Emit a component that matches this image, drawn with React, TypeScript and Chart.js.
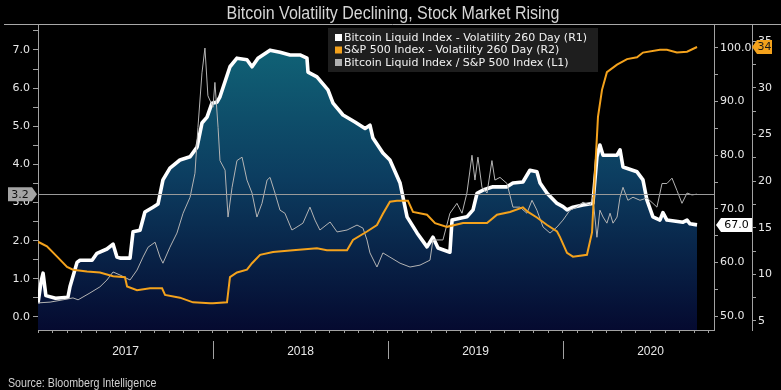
import React, { useEffect, useRef } from "react";
import { Chart, registerables } from "chart.js";

Chart.register(...registerables);

const ARIAL = '"Liberation Sans", Arial, sans-serif';
const SANS = '"DejaVu Sans", "Noto Sans", sans-serif';

const chartTitle = "Bitcoin Volatility Declining, Stock Market Rising";
const sourceNote = "Source: Bloomberg Intelligence";
const seriesLabels = [
  "Bitcoin Liquid Index - Volatility 260 Day (R1)",
  "S&P 500 Index - Volatility 260 Day (R2)",
  "Bitcoin Liquid Index / S&P 500 Index (L1)",
];
const seriesColors = ["#ffffff", "#f4a21c", "#b4b4b4"];
const years = [2017, 2018, 2019, 2020];
const xMin = 2017;
const xMax = 2020.863;

const leftTicks = [0, 0.5, 1, 1.5, 2, 2.5, 3, 3.5, 4, 4.5, 5, 5.5, 6, 6.5, 7, 7.5];
const leftRange = [-0.341, 7.655];
const r1Ticks = [50, 55, 60, 65, 70, 75, 80, 85, 90, 95, 100];
const r1Range = [47.39, 104.29];
const r2Ticks = [5, 7.5, 10, 12.5, 15, 17.5, 20, 22.5, 25, 27.5, 30, 32.5, 35];
const r2Range = [4.03, 36.76];

// Bitcoin Liquid Index - Volatility 260 Day (R1)
const btcVolX = [
  2017.0, 2017.018, 2017.029, 2017.045, 2017.1, 2017.171, 2017.183, 2017.223, 2017.24, 2017.309,
  2017.337, 2017.394, 2017.429, 2017.451, 2017.469, 2017.526, 2017.543, 2017.583, 2017.611, 2017.657,
  2017.686, 2017.714, 2017.754, 2017.811, 2017.869, 2017.909, 2017.937, 2017.966, 2017.994, 2018.023,
  2018.04, 2018.097, 2018.137, 2018.194, 2018.223, 2018.257, 2018.326, 2018.383, 2018.44, 2018.497,
  2018.537, 2018.543, 2018.594, 2018.657, 2018.686, 2018.743, 2018.811, 2018.869, 2018.897, 2018.914,
  2018.971, 2019.011, 2019.069, 2019.109, 2019.166, 2019.223, 2019.257, 2019.286, 2019.354, 2019.366,
  2019.451, 2019.486, 2019.509, 2019.543, 2019.6, 2019.68, 2019.714, 2019.771, 2019.811, 2019.851,
  2019.869, 2019.909, 2019.966, 2020.0, 2020.023, 2020.057, 2020.114, 2020.171, 2020.194, 2020.211,
  2020.229, 2020.309, 2020.326, 2020.343, 2020.423, 2020.457, 2020.48, 2020.514, 2020.554, 2020.571,
  2020.594, 2020.686, 2020.709, 2020.726, 2020.766,
];
const btcVol = [
  52.4, 56.5, 58.0, 53.8, 53.3, 53.5, 55.5, 60.0, 60.4, 60.4,
  61.7, 62.5, 63.4, 61.0, 60.8, 60.8, 65.7, 66.0, 69.4, 70.3,
  70.9, 75.4, 77.6, 79.1, 79.7, 81.5, 86.0, 87.1, 89.7, 89.9,
  90.9, 96.5, 98.1, 97.8, 96.5, 98.1, 99.6, 99.2, 98.7, 98.7,
  98.1, 95.5, 94.6, 92.2, 89.7, 87.5, 86.2, 85.0, 85.6, 83.2,
  80.4, 79.1, 74.8, 68.5, 65.5, 62.9, 64.7, 62.7, 61.9, 67.9,
  68.5, 69.8, 72.9, 73.5, 74.1, 74.1, 74.8, 75.0, 77.2, 76.9,
  74.8, 72.9, 71.0, 70.4, 69.8, 70.3, 70.7, 71.0, 79.7, 81.9,
  80.0, 80.0, 81.0, 77.8, 76.9, 75.4, 71.6, 68.5, 67.9, 69.3,
  67.9, 67.5, 67.9, 67.2, 67.0,
];

// S&P 500 Index - Volatility 260 Day (R2)
const spxVolX = [
  2017.0, 2017.051, 2017.109, 2017.166, 2017.2, 2017.28, 2017.354, 2017.429, 2017.497, 2017.509,
  2017.566, 2017.64, 2017.709, 2017.726, 2017.811, 2017.886, 2017.983, 2018.0, 2018.08, 2018.097,
  2018.137, 2018.194, 2018.223, 2018.269, 2018.343, 2018.457, 2018.594, 2018.651, 2018.766, 2018.8,
  2018.88, 2018.937, 2018.971, 2019.011, 2019.051, 2019.114, 2019.143, 2019.223, 2019.269, 2019.337,
  2019.429, 2019.566, 2019.623, 2019.697, 2019.771, 2019.8, 2019.851, 2019.909, 2019.966, 2019.983,
  2020.023, 2020.057, 2020.137, 2020.166, 2020.183, 2020.2, 2020.223, 2020.251, 2020.309, 2020.366,
  2020.423, 2020.457, 2020.554, 2020.594, 2020.651, 2020.709, 2020.766,
];
const spxVol = [
  13.5, 13.0, 11.9, 10.8, 10.5, 10.3, 10.2, 9.8, 9.7, 8.7,
  8.3, 8.5, 8.5, 7.8, 7.5, 7.0, 6.9, 6.9, 7.0, 9.7,
  10.2, 10.5, 11.2, 12.1, 12.4, 12.6, 12.8, 12.6, 12.6, 13.7,
  14.6, 15.3, 16.5, 17.8, 17.9, 17.9, 16.7, 16.4, 15.5, 15.1,
  15.5, 15.5, 16.4, 16.7, 17.2, 16.7, 16.1, 15.3, 14.6, 14.0,
  12.3, 11.9, 12.1, 14.5, 20.9, 26.9, 29.8, 31.7, 32.5, 33.1,
  33.3, 33.8, 34.1, 34.1, 33.8, 33.9, 34.4,
];

// Bitcoin Liquid Index / S&P 500 Index (L1)
const ratioX = [
  2017.0, 2017.069, 2017.143, 2017.2, 2017.229, 2017.297, 2017.354, 2017.394, 2017.429, 2017.469,
  2017.526, 2017.566, 2017.6, 2017.629, 2017.669, 2017.697, 2017.714, 2017.754, 2017.794, 2017.829,
  2017.869, 2017.897, 2017.914, 2017.937, 2017.954, 2017.971, 2018.0, 2018.011, 2018.029, 2018.04,
  2018.069, 2018.086, 2018.109, 2018.137, 2018.166, 2018.194, 2018.223, 2018.251, 2018.28, 2018.309,
  2018.326, 2018.354, 2018.383, 2018.411, 2018.451, 2018.48, 2018.514, 2018.554, 2018.583, 2018.611,
  2018.669, 2018.709, 2018.766, 2018.823, 2018.857, 2018.88, 2018.897, 2018.937, 2018.971, 2019.011,
  2019.069, 2019.126, 2019.183, 2019.24, 2019.257, 2019.314, 2019.354, 2019.394, 2019.423, 2019.451,
  2019.48, 2019.497, 2019.514, 2019.537, 2019.566, 2019.594, 2019.611, 2019.64, 2019.68, 2019.714,
  2019.754, 2019.794, 2019.823, 2019.851, 2019.886, 2019.926, 2019.966, 2020.0, 2020.04, 2020.08,
  2020.114, 2020.154, 2020.171, 2020.194, 2020.211, 2020.229, 2020.251, 2020.269, 2020.286, 2020.309,
  2020.326, 2020.343, 2020.371, 2020.4, 2020.44, 2020.48, 2020.514, 2020.537, 2020.566, 2020.594,
  2020.623, 2020.651, 2020.68, 2020.709, 2020.737, 2020.766,
];
const ratio = [
  0.37, 0.39, 0.45, 0.5, 0.45, 0.63, 0.79, 0.97, 1.18, 1.1,
  0.97, 1.23, 1.57, 1.83, 1.96, 1.57, 1.41, 1.83, 2.2, 2.72,
  3.14, 3.77, 4.97, 6.4, 7.05, 5.8, 5.5, 6.15, 4.97, 4.1,
  3.85, 2.62, 3.4, 4.1, 4.19, 3.59, 3.25, 2.62, 2.98, 3.59,
  3.66, 3.25, 2.8, 2.72, 2.28, 2.36, 2.46, 2.88, 2.54, 2.28,
  2.49, 2.23, 2.28, 2.41, 2.33, 2.02, 1.68, 1.31, 1.68, 1.57,
  1.41, 1.31, 1.36, 1.49, 2.02, 2.02, 2.72, 2.98, 2.72, 3.25,
  4.24, 3.59, 4.19, 3.4, 3.25, 4.1, 3.59, 3.66, 3.5, 2.88,
  2.88, 2.72, 3.06, 2.8, 2.36, 2.2, 2.36, 2.54, 2.8, 2.88,
  3.01, 2.93, 3.14, 2.09, 2.8, 2.62, 2.46, 2.72, 2.46, 2.62,
  3.14, 3.4, 3.06, 3.14, 3.06, 3.12, 2.98, 2.88, 3.5, 3.5,
  3.64, 3.32, 2.98, 3.25, 3.2, 3.22,
];

const monthTicks = years
  .flatMap((y) => Array.from({ length: 12 }, (_, m) => y + m / 12))
  .filter((v) => v <= xMax);

const AXIS = "#a2a2a2";
const TICK_TXT = "#e8e8e8";

function pts(xs: number[], ys: number[]) {
  return xs.map((x, i) => ({ x, y: ys[i] }));
}

function narrowText(
  ctx: CanvasRenderingContext2D,
  text: string,
  x: number,
  y: number,
  size: number,
  squeeze: number,
  align: CanvasTextAlign,
  color: string
) {
  ctx.save();
  ctx.translate(x, y);
  ctx.scale(squeeze, 1);
  ctx.font = `${size}px ${ARIAL}`;
  ctx.fillStyle = color;
  ctx.textAlign = align;
  ctx.textBaseline = "alphabetic";
  ctx.fillText(text, 0, 0);
  ctx.restore();
}

function drawTag(
  ctx: CanvasRenderingContext2D,
  tipX: number,
  endX: number,
  y: number,
  fill: string,
  text: string,
  textColor: string
) {
  const h = 7;
  const dir = endX > tipX ? 1 : -1;
  const bodyX = tipX + dir * 5;
  ctx.save();
  ctx.beginPath();
  ctx.moveTo(tipX, y);
  ctx.lineTo(bodyX, y - h);
  ctx.lineTo(endX, y - h);
  ctx.lineTo(endX, y + h);
  ctx.lineTo(bodyX, y + h);
  ctx.closePath();
  ctx.fillStyle = fill;
  ctx.fill();
  ctx.fillStyle = textColor;
  ctx.font = `11px ${SANS}`;
  ctx.textAlign = "center";
  ctx.textBaseline = "middle";
  ctx.fillText(text, (bodyX + endX) / 2, y + 0.5);
  ctx.restore();
}

const decor = {
  id: "decor",
  afterDatasetsDraw(chart: any) {
    const { ctx, chartArea, scales } = chart;
    const lastRatio = ratio[ratio.length - 1];
    const yl = Math.round(scales.yL.getPixelForValue(lastRatio)) + 0.5;
    ctx.save();
    ctx.strokeStyle = "#9a9a9a";
    ctx.lineWidth = 1;
    ctx.beginPath();
    ctx.moveTo(chartArea.left, yl);
    ctx.lineTo(chartArea.right, yl);
    ctx.stroke();

    // legend
    const lx = 328;
    const ly = 28;
    ctx.fillStyle = "#1e1e1e";
    ctx.fillRect(lx, ly, 270, 44);
    ctx.font = `11px ${SANS}`;
    ctx.textBaseline = "middle";
    ctx.textAlign = "left";
    seriesLabels.forEach((lab, i) => {
      const cy = ly + 9.5 + i * 12.5;
      ctx.fillStyle = i === 2 ? "#b0b0b0" : seriesColors[i];
      ctx.fillRect(lx + 7, cy - 3.5, 7, 7);
      ctx.fillStyle = "#f2f2f2";
      ctx.fillText(lab, lx + 16, cy + 0.5);
    });
    ctx.restore();
  },
  afterDraw(chart: any) {
    const { ctx, chartArea, scales } = chart;
    ctx.save();
    // title
    narrowText(ctx, chartTitle, 393, 18.5, 17.5, 0.915, "center", "#d6d6d6");

    // frame line under title
    ctx.strokeStyle = "#a8a8a8";
    ctx.lineWidth = 1;
    ctx.beginPath();
    ctx.moveTo(4, Math.round(chartArea.top) - 0.5);
    ctx.lineTo(781, Math.round(chartArea.top) - 0.5);
    ctx.stroke();

    // year separators
    ctx.strokeStyle = AXIS;
    years.slice(1).forEach((yr) => {
      const x = Math.round(scales.x.getPixelForValue(yr)) + 0.5;
      ctx.beginPath();
      ctx.moveTo(x, 341);
      ctx.lineTo(x, 359);
      ctx.stroke();
    });

    // source
    narrowText(ctx, sourceNote, 8, 386.5, 12, 0.89, "left", "#d0d0d0");
    ctx.restore();

    // last value tags
    const lastRatio = ratio[ratio.length - 1];
    const lastBtc = btcVol[btcVol.length - 1];
    const lastSpx = spxVol[spxVol.length - 1];
    drawTag(ctx, scales.yL.right - 1, 8, scales.yL.getPixelForValue(lastRatio), "#a4a4a4", lastRatio.toFixed(1), "#111");
    drawTag(ctx, scales.r1.left + 2, scales.r1.right, scales.r1.getPixelForValue(lastBtc), "#ffffff", lastBtc.toFixed(1), "#000");
    drawTag(ctx, scales.r2.left, scales.r2.left + 20, scales.r2.getPixelForValue(lastSpx), "#f4a21c", String(Math.round(lastSpx)), "#1a1a1a");
  },
};

export default function App() {
  const ref = useRef<HTMLCanvasElement>(null);
  useEffect(() => {
    document.body.style.margin = "0";
    document.body.style.background = "#000";
    const canvas = ref.current!;
    const gridBase = { drawOnChartArea: false, color: AXIS, tickLength: 4 };
    const chart = new Chart(canvas, {
      type: "line",
      data: {
        datasets: [
          {
            label: seriesLabels[0],
            data: pts(btcVolX, btcVol),
            yAxisID: "r1",
            borderColor: seriesColors[0],
            borderWidth: 3.6,
            borderJoinStyle: "round",
            fill: "start",
            backgroundColor: (c: any) => {
              const area = c.chart.chartArea;
              if (!area) return "rgba(0,0,0,0)";
              const g = c.chart.ctx.createLinearGradient(0, area.top, 0, area.bottom);
              g.addColorStop(0, "#11697a");
              g.addColorStop(0.5, "#0c3d60");
              g.addColorStop(1, "#050a30");
              return g;
            },
            pointRadius: 0,
            order: 3,
          },
          {
            label: seriesLabels[1],
            data: pts(spxVolX, spxVol),
            yAxisID: "r2",
            borderColor: seriesColors[1],
            borderWidth: 2,
            fill: false,
            pointRadius: 0,
            order: 1,
          },
          {
            label: seriesLabels[2],
            data: pts(ratioX, ratio),
            yAxisID: "yL",
            borderColor: seriesColors[2],
            borderWidth: 1,
            fill: false,
            pointRadius: 0,
            order: 2,
          },
        ],
      },
      options: {
        animation: false,
        responsive: false,
        devicePixelRatio: 1,
        layout: { padding: { top: 25 } },
        plugins: {
          legend: { display: false },
          tooltip: { enabled: false },
          title: { display: false },
        },
        scales: {
          x: {
            type: "linear",
            min: xMin,
            max: xMax,
            afterBuildTicks: (s: any) => {
              s.ticks = monthTicks.map((v) => ({ value: v }));
            },
            afterFit: (s: any) => {
              s.height = 60;
            },
            ticks: {
              autoSkip: false,
              maxRotation: 0,
              padding: 11,
              color: TICK_TXT,
              font: { family: ARIAL, size: 12 },
              callback: (v: any) => {
                const n = Number(v);
                const fl = Math.floor(n + 1e-9);
                return Math.abs(n - fl - 0.5) < 1e-6 ? String(fl) : "";
              },
            },
            grid: { ...gridBase, tickLength: 3 },
            border: { display: true, color: AXIS },
          },
          yL: {
            type: "linear",
            position: "left",
            min: leftRange[0],
            max: leftRange[1],
            afterBuildTicks: (s: any) => {
              s.ticks = leftTicks.map((v) => ({ value: v }));
            },
            afterFit: (s: any) => {
              s.width = 38;
            },
            ticks: {
              padding: 3,
              color: TICK_TXT,
              font: { family: SANS, size: 11 },
              callback: (v: any) => (Number.isInteger(Number(v)) ? Number(v).toFixed(1) : ""),
            },
            grid: { ...gridBase, tickLength: 5 },
            border: { display: true, color: AXIS },
          },
          r1: {
            type: "linear",
            position: "right",
            weight: 0,
            min: r1Range[0],
            max: r1Range[1],
            afterBuildTicks: (s: any) => {
              s.ticks = r1Ticks.map((v) => ({ value: v }));
            },
            afterFit: (s: any) => {
              s.width = 38;
            },
            ticks: {
              padding: 2,
              color: TICK_TXT,
              font: { family: SANS, size: 11 },
              callback: (v: any) => (Number(v) % 10 === 0 ? Number(v).toFixed(1) : ""),
            },
            grid: gridBase,
            border: { display: true, color: AXIS },
          },
          r2: {
            type: "linear",
            position: "right",
            weight: 1,
            min: r2Range[0],
            max: r2Range[1],
            afterBuildTicks: (s: any) => {
              s.ticks = r2Ticks.map((v) => ({ value: v }));
            },
            afterFit: (s: any) => {
              s.width = 29;
            },
            ticks: {
              padding: 2,
              color: TICK_TXT,
              font: { family: SANS, size: 11 },
              callback: (v: any) => (Number(v) % 5 === 0 ? String(Number(v)) : ""),
            },
            grid: gridBase,
            border: { display: true, color: AXIS },
          },
        },
      },
      plugins: [decor],
    } as any);
    return () => chart.destroy();
  }, []);
  return (
    <div style={{ width: 781, height: 390, background: "#000" }}>
      <canvas ref={ref} width={781} height={390} style={{ display: "block", width: 781, height: 390 }} />
    </div>
  );
}
